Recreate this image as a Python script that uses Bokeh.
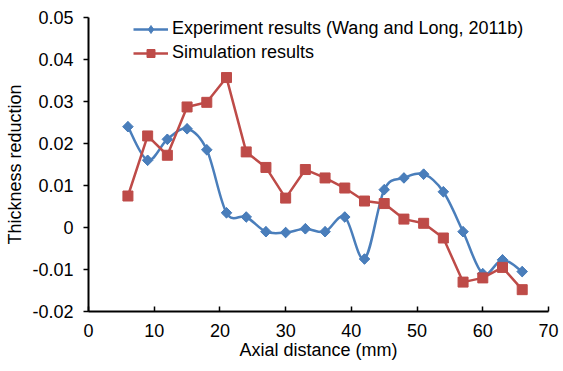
import numpy as np
from bokeh.plotting import figure
from bokeh.models import Range1d, Legend, LegendItem, CustomJSTickFormatter, FixedTicker
from bokeh.embed import file_html
from bokeh.resources import INLINE

# ---- data ----
axial_mm = [6, 9, 12, 15, 18, 21, 24, 27, 30, 33, 36, 39, 42, 45, 48, 51, 54, 57, 60, 63, 66]
experiment = [0.0240, 0.0160, 0.0210, 0.0235, 0.0185, 0.0035, 0.0025, -0.0010, -0.0012, -0.0003,
              -0.0010, 0.0025, -0.0075, 0.0090, 0.0118, 0.0127, 0.0085, -0.0010, -0.0110, -0.0077, -0.0105]
simulation = [0.0075, 0.0218, 0.0172, 0.0287, 0.0298, 0.0357, 0.0180, 0.0143, 0.0070, 0.0138,
              0.0118, 0.0094, 0.0063, 0.0057, 0.0020, 0.0010, -0.0025, -0.0130, -0.0120, -0.0095, -0.0148]
x_ticks = [0, 10, 20, 30, 40, 50, 60, 70]
y_ticks = [-0.02, -0.01, 0, 0.01, 0.02, 0.03, 0.04, 0.05]
exp_label = "Experiment results (Wang and Long, 2011b)"
sim_label = "Simulation results"

BLUE = "#4A7EBB"
RED = "#BE4B48"
FONT = "Liberation Sans"

p = figure(width=563, height=371, output_backend="svg", toolbar_location=None,
           x_range=Range1d(0, 70), y_range=Range1d(-0.02, 0.05),
           min_border_left=88, min_border_right=15, min_border_top=17, min_border_bottom=60)
p.outline_line_color = None
p.grid.visible = False
p.background_fill_color = "white"
p.border_fill_color = "white"

# smooth curve (Catmull-Rom style Bezier, like Excel's smoothed line) for experiment
xs = np.array(axial_mm, dtype=float)
ys = np.array(experiment, dtype=float)
n = len(xs)
def pt(i):
    i = min(max(i, 0), n - 1)
    return xs[i], ys[i]
x0, y0, x1, y1, cx0, cy0, cx1, cy1 = [], [], [], [], [], [], [], []
for i in range(n - 1):
    pa = pt(i - 1); pb = pt(i); pc = pt(i + 1); pd = pt(i + 2)
    x0.append(pb[0]); y0.append(pb[1]); x1.append(pc[0]); y1.append(pc[1])
    cx0.append(pb[0] + (pc[0] - pa[0]) / 6); cy0.append(pb[1] + (pc[1] - pa[1]) / 6)
    cx1.append(pc[0] - (pd[0] - pb[0]) / 6); cy1.append(pc[1] - (pd[1] - pb[1]) / 6)
bez = p.bezier(x0=x0, y0=y0, x1=x1, y1=y1, cx0=cx0, cy0=cy0, cx1=cx1, cy1=cy1,
               line_color=BLUE, line_width=2.5)

sim_line = p.line(axial_mm, simulation, line_color=RED, line_width=2.5)
exp_pts = p.scatter(axial_mm, experiment, marker="square", angle=np.pi / 4, size=7.5,
                    fill_color=BLUE, line_color=BLUE)
exp_diam = p.scatter(axial_mm, experiment, marker="diamond", size=10,
                     fill_color=BLUE, line_color=BLUE)
sim_pts = p.scatter(axial_mm, simulation, marker="square", size=10,
                    fill_color=RED, line_color=RED)

# axes
for ax in (p.xaxis[0], p.yaxis[0]):
    ax.axis_line_color = "black"
    ax.axis_line_width = 2
    ax.major_tick_line_color = "black"
    ax.major_tick_line_width = 1.5
    ax.minor_tick_line_color = None
    ax.major_label_text_font = FONT
    ax.major_label_text_font_size = "18px"
    ax.major_label_text_color = "black"
    ax.axis_label_text_font = FONT
    ax.axis_label_text_font_size = "18px"
    ax.axis_label_text_font_style = "normal"
    ax.axis_label_text_color = "black"

p.xaxis.ticker = FixedTicker(ticks=x_ticks)
p.yaxis.ticker = FixedTicker(ticks=y_ticks)
p.xaxis.major_tick_in = 5
p.xaxis.major_tick_out = 0
p.yaxis.major_tick_in = 0
p.yaxis.major_tick_out = 5
p.xaxis.major_label_standoff = 12
p.yaxis.major_label_standoff = 10
p.xaxis.axis_label = "Axial distance (mm)"
p.yaxis.axis_label = "Thickness reduction"
p.xaxis.axis_label_standoff = 0
p.yaxis.axis_label_standoff = 4
p.yaxis.formatter = CustomJSTickFormatter(code="""
const v = Math.round(tick * 100) / 100;
return v === 0 ? "0" : v.toFixed(2);
""")

legend = Legend(items=[
    LegendItem(label=exp_label, renderers=[bez, exp_diam]),
    LegendItem(label=sim_label, renderers=[sim_line, sim_pts]),
], location=(45, 248))
legend.border_line_color = None
legend.background_fill_alpha = 0
legend.padding = 0
legend.margin = 0
legend.spacing = 3
legend.glyph_width = 35
legend.glyph_height = 20
legend.label_height = 20
legend.label_standoff = 4
legend.label_text_font = FONT
legend.label_text_font_size = "18px"
legend.label_text_color = "black"
p.add_layout(legend, "center")

open("out.html", "w").write(file_html(p, INLINE))
